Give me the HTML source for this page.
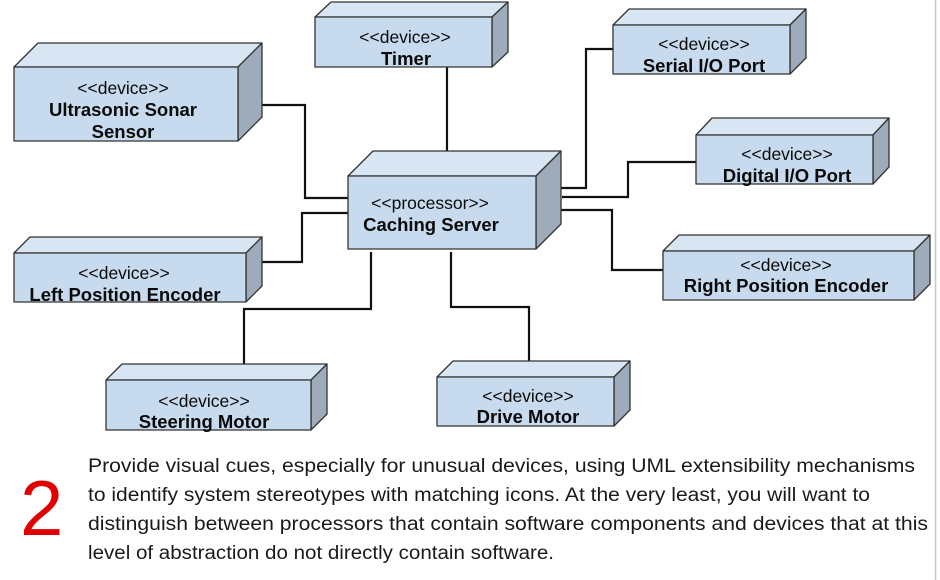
<!DOCTYPE html>
<html><head><meta charset="utf-8"><style>
html,body{margin:0;padding:0;background:#fff;}
svg{display:block;}
</style></head><body>
<svg width="940" height="580" viewBox="0 0 940 580" xmlns="http://www.w3.org/2000/svg">
<rect width="940" height="580" fill="#fff"/>
<line x1="935.5" y1="0" x2="935.5" y2="580" stroke="#c8c8c8" stroke-width="1.5"/>
<g fill="none" stroke="#111" stroke-width="2.2">
<polyline points="238,105 305,105 305,198 348,198"/>
<polyline points="447,67 447,151"/>
<polyline points="246,262 302,262 302,213 348,213"/>
<polyline points="371,252 371,309 244,309 244,364"/>
<polyline points="451,252 451,307 529,307 529,361"/>
<polyline points="561,188 586,188 586,49 613,49"/>
<polyline points="562,197 628,197 628,162 696,162"/>
<polyline points="561,210 612,210 612,270 663,270"/>
</g>
<g stroke="#333" stroke-width="1.3" stroke-linejoin="round">
<g><polygon points="14,67 38,43 262,43 238,67" fill="#d8e5f2"/><polygon points="238,67 262,43 262,117 238,141" fill="#9eabba"/><rect x="14" y="67" width="224" height="74" fill="#c8dbee"/></g>
<g><polygon points="315,17 331,2 508,2 492,17" fill="#d8e5f2"/><polygon points="492,17 508,2 508,52 492,67" fill="#9eabba"/><rect x="315" y="17" width="177" height="50" fill="#c8dbee"/></g>
<g><polygon points="348,176 373,151 561,151 536,176" fill="#d8e5f2"/><polygon points="536,176 561,151 561,224 536,249" fill="#9eabba"/><rect x="348" y="176" width="188" height="73" fill="#c8dbee"/></g>
<g><polygon points="613,25 629,9 806,9 790,25" fill="#d8e5f2"/><polygon points="790,25 806,9 806,58 790,74" fill="#9eabba"/><rect x="613" y="25" width="177" height="49" fill="#c8dbee"/></g>
<g><polygon points="696,135 712,118 889,118 873,135" fill="#d8e5f2"/><polygon points="873,135 889,118 889,167 873,184" fill="#9eabba"/><rect x="696" y="135" width="177" height="49" fill="#c8dbee"/></g>
<g><polygon points="663,251 679,235 930,235 914,251" fill="#d8e5f2"/><polygon points="914,251 930,235 930,284 914,300" fill="#9eabba"/><rect x="663" y="251" width="251" height="49" fill="#c8dbee"/></g>
<g><polygon points="14,253 30,237 262,237 246,253" fill="#d8e5f2"/><polygon points="246,253 262,237 262,286 246,302" fill="#9eabba"/><rect x="14" y="253" width="232" height="49" fill="#c8dbee"/></g>
<g><polygon points="106,380 122,364 327,364 311,380" fill="#d8e5f2"/><polygon points="311,380 327,364 327,414 311,430" fill="#9eabba"/><rect x="106" y="380" width="205" height="50" fill="#c8dbee"/></g>
<g><polygon points="437,377 453,361 630,361 614,377" fill="#d8e5f2"/><polygon points="614,377 630,361 630,410 614,426" fill="#9eabba"/><rect x="437" y="377" width="177" height="49" fill="#c8dbee"/></g>
</g>
<g font-family="Liberation Sans, Arial, sans-serif" fill="#0a0a0a" text-anchor="middle">
<g font-size="17.5">
<text x="123" y="94">&lt;&lt;device&gt;&gt;</text>
<text x="405" y="43">&lt;&lt;device&gt;&gt;</text>
<text x="430" y="209">&lt;&lt;processor&gt;&gt;</text>
<text x="704" y="50">&lt;&lt;device&gt;&gt;</text>
<text x="787" y="160">&lt;&lt;device&gt;&gt;</text>
<text x="786" y="271">&lt;&lt;device&gt;&gt;</text>
<text x="124" y="279">&lt;&lt;device&gt;&gt;</text>
<text x="204" y="407">&lt;&lt;device&gt;&gt;</text>
<text x="528" y="402">&lt;&lt;device&gt;&gt;</text>
</g>
<g font-size="18.5" font-weight="bold">
<text x="123" y="116">Ultrasonic Sonar</text>
<text x="123" y="138">Sensor</text>
<text x="406" y="65">Timer</text>
<text x="431" y="231">Caching Server</text>
<text x="704" y="72">Serial I/O Port</text>
<text x="787" y="182">Digital I/O Port</text>
<text x="786" y="292">Right Position Encoder</text>
<text x="125" y="301">Left Position Encoder</text>
<text x="204" y="428">Steering Motor</text>
<text x="528" y="423">Drive Motor</text>
</g>
</g>
<text x="20" y="535" font-family="Liberation Sans, Arial, sans-serif" font-size="78" fill="#e00000">2</text>
<g font-family="Liberation Sans, Arial, sans-serif" font-size="19" fill="#1a1a1a">
<text x="88" y="472" textLength="827" lengthAdjust="spacingAndGlyphs">Provide visual cues, especially for unusual devices, using UML extensibility mechanisms</text>
<text x="88" y="501" textLength="782" lengthAdjust="spacingAndGlyphs">to identify system stereotypes with matching icons. At the very least, you will want to</text>
<text x="88" y="530" textLength="840" lengthAdjust="spacingAndGlyphs">distinguish between processors that contain software components and devices that at this</text>
<text x="88" y="559" textLength="466" lengthAdjust="spacingAndGlyphs">level of abstraction do not directly contain software.</text>
</g>
</svg>
</body></html>
